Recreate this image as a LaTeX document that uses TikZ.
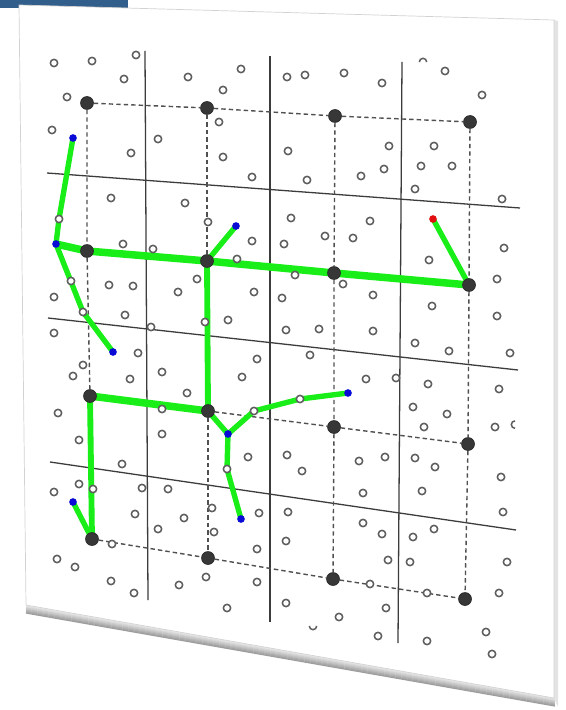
\documentclass[tikz,border=0pt]{standalone}
\usepackage{xcolor}
\usepackage{tikz}
\usetikzlibrary{positioning, backgrounds}
\definecolor{MeshGreen}{RGB}{25,238,25}
\definecolor{SinkBlue}{RGB}{10,10,215}
\definecolor{SrcRed}{RGB}{225,15,15}
\definecolor{HeadGray}{RGB}{55,55,55}
\definecolor{RingGray}{RGB}{95,95,95}
\definecolor{DashGray}{RGB}{80,80,80}
\definecolor{CellGray}{RGB}{60,60,60}
\definecolor{BarBlue}{RGB}{50,94,140}

\begin{document}
\begin{tikzpicture}[x=0.03cm, y=-0.03cm,
          head/.style={circle, fill=HeadGray, draw=black!85, line width=0.5pt,
                       minimum size=0.39cm, inner sep=0pt},
          ring/.style={circle, draw=RingGray, fill=white, line width=1.3pt,
                       minimum size=0.22cm, inner sep=0pt},
          sink/.style={circle, fill=SinkBlue, minimum size=0.23cm, inner sep=0pt},
          src/.style={circle, fill=SrcRed, minimum size=0.23cm, inner sep=0pt},
          trunk/.style={MeshGreen, line width=6.4pt, line join=round},
          twig/.style={MeshGreen, line width=4.6pt, line join=round},
          cell/.style={CellGray, line width=1.1pt},
          link/.style={DashGray, line width=1.2pt, dash pattern=on 3.8pt off 2.6pt}
        ]
        \useasboundingbox (0,0) rectangle (565,710);

        % Sheet
        \begin{scope}[on background layer]
          \fill[BarBlue] (0,0) rectangle (128,8);
          \foreach \d [evaluate=\d as \s using int(2+4*\d)] in {0,...,9}
            \draw[black!\s, line width=1.1pt] (26,604+\d) -- (555,697+\d);
          \fill[gray!22] (554,20) -- (558,21) -- (558,707) -- (554,698) -- cycle;
          \fill[white, draw=gray!35, line width=0.6pt]
                (19,5) -- (554,20) -- (554,698) -- (26,605) -- cycle;

          % Cells
          \draw[cell] (145,51) -- (148,600);
          \draw[cell] (270,56) -- (270,622);
          \draw[cell] (402,62) -- (398,643);
          \draw[cell] (47,173) -- (520,208);
          \draw[cell] (48,318) -- (518,370);
          \draw[cell] (50,462) -- (516,530);
        \end{scope}

        % Scattered sensors
        \foreach \x/\y [count=\i] in {54/63, 92/61, 136/55, 124/79, 188/77, 241/69,
            223/90, 287/77, 67/97, 219/122, 52/130, 158/139, 131/153, 223/157,
            288/151, 252/177, 111/198, 185/203, 208/222, 291/218, 123/244,
            153/249, 252/241, 284/244, 237/259, 71/281, 109/285, 133/286,
            197/279, 178/292, 254/292, 282/298, 54/297, 125/315, 228/320,
            205/322, 151/327, 286/330, 54/333, 138/353, 257/359,
            445/71, 305/75, 344/73, 382/83, 482/95, 389/146, 434/146, 307/180,
            361/176, 384/169, 421/166, 452/166, 415/189, 502/199, 370/221,
            325/236, 353/238, 429/260, 504/248, 295/275, 343/284, 373/295,
            432/306, 497/279, 497/316, 319/329, 373/331, 415/343, 449/351,
            510/353, 310/355,
            83/365, 73/376, 130/379, 162/372, 187/393, 242/377, 58/413, 162/409,
            79/440, 162/434, 248/457, 287/455, 122/464, 54/492, 79/484, 93/489,
            142/488, 168/489, 135/514, 184/518, 212/508, 259/513, 288/512,
            158/529, 214/532, 112/544, 286/541, 257/549, 57/559, 75/567,
            111/581, 179/585, 206/577, 257/582, 134/593, 286/603, 227/608,
            366/379, 396/378, 428/384, 499/389, 413/407, 447/414, 424/427,
            495/427, 302/471, 359/461, 385/457, 415/458, 435/467, 501/477,
            363/493, 422/491, 503/512, 363/523, 382/534, 413/537, 434/529,
            388/560, 410/562, 507/562, 370/584, 427/593, 339/617, 386/608,
            499/593, 378/636, 427/641, 486/632, 492/654} {
          \node[ring] (c\i) at (\x,\y) {};
        }
        \draw[RingGray, line width=1.3pt] (419.3,62) arc[start angle=180, end angle=360, radius=3.7];
        \draw[RingGray, line width=1.3pt] (309.3,626) arc[start angle=180, end angle=0, radius=3.7];
        \draw[RingGray, line width=1.3pt] (515,428.3) arc[start angle=90, end angle=270, radius=3.7];

        % Cluster heads
        \foreach \n/\x/\y in {11/87/103, 12/207/108, 13/335/116, 14/470/122,
                              21/87/251, 22/207/261, 23/334/273, 24/469/285,
                              31/90/396, 32/208/411, 33/334/427, 34/468/444,
                              41/92/539, 42/208/558, 43/333/579, 44/465/599} {
          \node[head] (g\n) at (\x,\y) {};
        }

        % Relays on the routes
        \foreach \i/\x/\y in {1/59/219, 2/83/312, 3/254/411, 4/300/399, 5/227/469} {
          \node[ring] (w\i) at (\x,\y) {};
        }

        % Members and source
        \foreach \i/\x/\y in {1/73/138, 2/56/244, 3/113/352, 4/236/226,
                              5/228/434, 6/348/393, 7/241/519, 8/73/502} {
          \node[sink] (b\i) at (\x,\y) {};
        }
        \node[src] (r1) at (433,219) {};

        \begin{scope}[on background layer]
          % Head-to-head links
          \draw[link] (g11) -- (g12) -- (g13) -- (g14);
          \draw[link] (g32) -- (g33) -- (g34);
          \draw[link] (g41) -- (g42) -- (g43) -- (g44);
          \draw[link] (g11) -- (g21) -- (g31);
          \draw[link] (g12) -- (g22);
          \draw[link] (g32) -- (g42);
          \draw[link] (g13) -- (g23) -- (g33) -- (g43);
          \draw[link] (g14) -- (g24) -- (g34) -- (g44);

          % Routes
          \draw[trunk] (b2.center) -- (g21.center) -- (g22.center) -- (g23.center) -- (g24.center);
          \draw[trunk] (g31.center) -- (g32.center);
          \draw[twig, line width=5pt] (g22.center) -- (g32.center);
          \draw[twig, line width=5pt] (g31.center) -- (g41.center);
          \draw[twig] (b1.center) -- (w1.center) -- (b2.center) -- (w2.center) -- (b3.center);
          \draw[twig] (g22.center) -- (b4.center);
          \draw[twig] (r1.center) -- (g24.center);
          \draw[twig] (b8.center) -- (g41.center);
          \draw[twig] (g32.center) -- (b5.center) -- (w3.center) -- (w4.center) -- (b6.center);
          \draw[twig] (b5.center) -- (w5.center) -- (b7.center);
        \end{scope}
      \end{tikzpicture}
\end{document}
